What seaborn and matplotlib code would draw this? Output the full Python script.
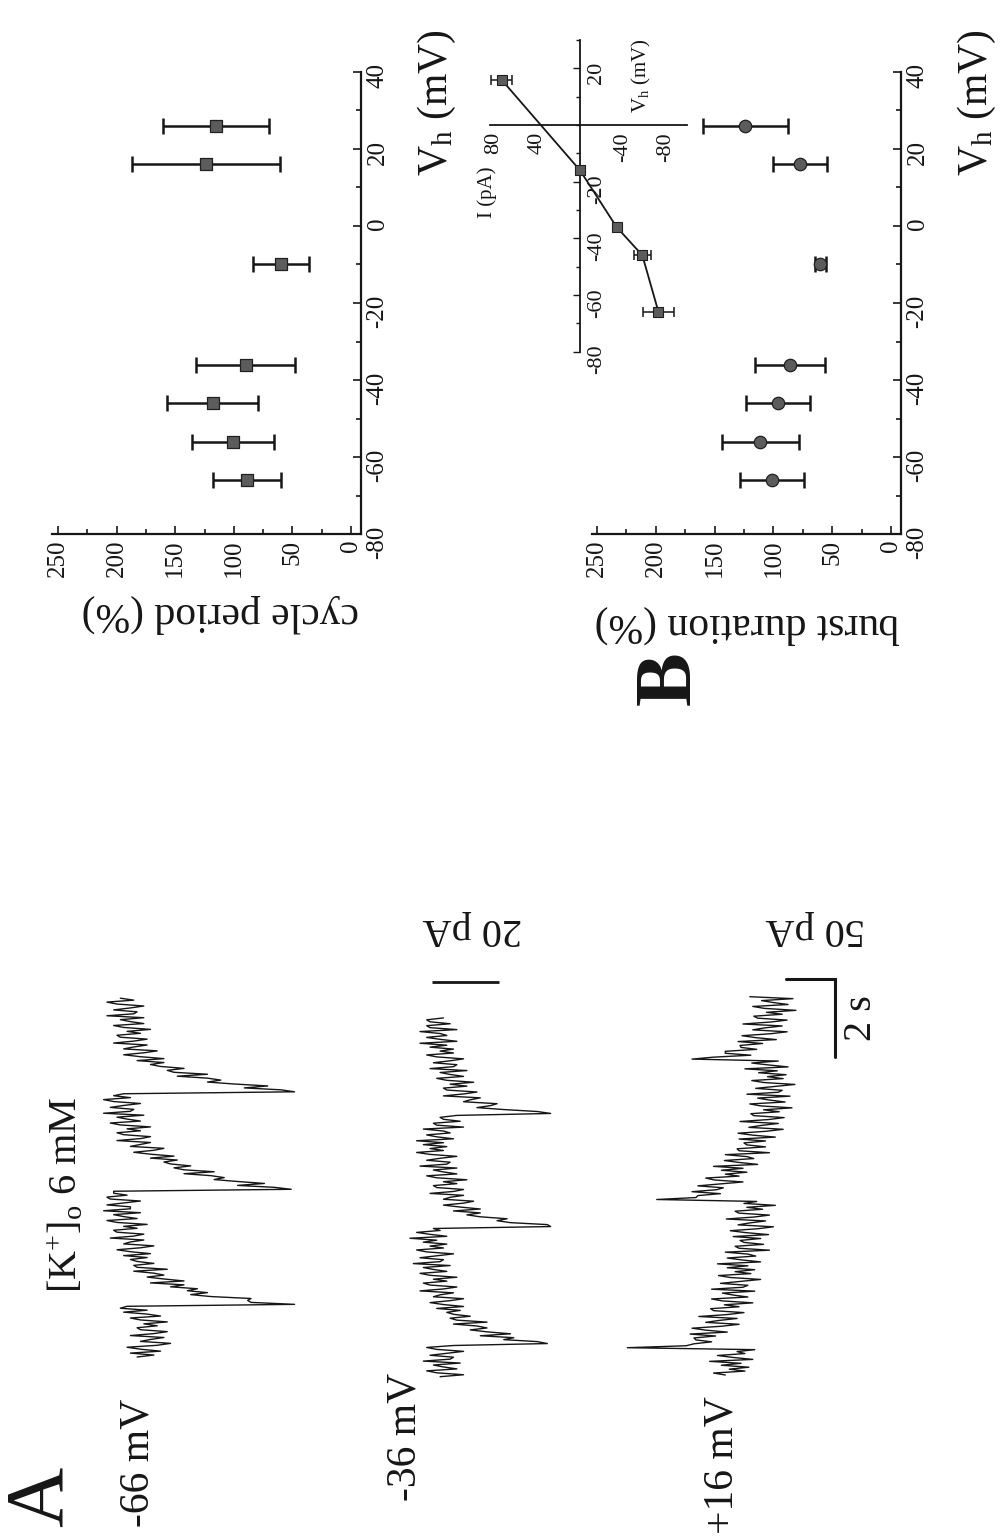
import numpy as np
import pandas as pd
import matplotlib
matplotlib.use("Agg")
import matplotlib.pyplot as plt
import seaborn as sns
from matplotlib.ticker import MultipleLocator, FixedLocator

sns.set_theme(style="white")
plt.rcParams['font.family'] = ['Liberation Serif', 'DejaVu Serif']
plt.rcParams['mathtext.fontset'] = 'custom'
plt.rcParams['mathtext.rm'] = 'Liberation Serif'
plt.rcParams['mathtext.it'] = 'Liberation Serif:italic'
plt.rcParams['mathtext.bf'] = 'Liberation Serif:bold'
plt.rcParams['axes.unicode_minus'] = False

# ---------------- data ----------------
vh = [-66, -56, -46, -36, -10, 16, 26]
cycle_period = [89, 101, 118, 90, 60, 124, 115]
cycle_err = [29, 35, 39, 42, 24, 63, 45]
burst_duration = [101, 111, 96, 86, 60, 77, 124]
burst_err = [27, 33, 27, 30, 5, 23, 36]

iv_vh = [-66, -46, -36, -16, 16]
iv_current = [-73, -58, -34, 0, 73]
iv_err = [14, 8, 3, 2, 10]

period_ticks = [0, 50, 100, 150, 200, 250]
vh_ticks = [-80, -60, -40, -20, 0, 20, 40]
iv_i_ticks = [80, 40, -40, -80]
iv_v_ticks = [20, -20, -40, -60, -80]

trace_dt = 0.05  # s per sample
trace_m66 = [-6, -11, -4, -13, -7, -3, -12, -16, -7, -10, -14, -4, -11, -15, -7, -6,
             -12, -8, -15, -7, -4, -13, -9, -2, -9, -1, -3,
             -53, -40, -39, -40, -28, -22, -27, -21, -24, -16, -20, -10, -20, -14, -9,
             -14, -11, -5, -15, -6, -5, -11, -6, -4, -9, -2, -10, -4, 0, -7, -11, -2,
             -4, -8, 2, -5, -8, 0, 1, -6, -2, -9, 0, 3, -6, -2, 1, -7, 4, -4, -4, 3,
             -2, -7, 2, 3, -3, 1, 1,
             -52, -47, -36, -44, -36, -29, -32, -28, -20, -29, -20, -17, -22, -16, -14,
             -18, -10, -17, -10, -5, -11, -14, -4, -7, -10, 0, -7, -10, -2, 0, -7, -3,
             -10, -1, 2, -7, -3, 0, -8, 4, -4, -5, 2, -2, -7, 1, 4, -4, 1, -2,
             -53, -49, -38, -45, -35, -27, -31, -27, -18, -27, -17, -15, -20, -13, -10,
             -14, -6, -14, -7, -2, -8, -12, -2, -5, -9, 1, -5, -9, -1, 0, -7, -3, -10,
             -2, 1, -8, -4, -1, -8, 3, -5, -6, 1, -4, -8, 0, 3, -5, -1]
trace_m36 = [-6, -13, -5, -2, -11, -7, -4, -12, -1, -9, -10, -3, -8, -13, -5, -2, -10,
             -38, -35, -25, -28, -18, -27, -20, -15, -20, -17, -10, -20, -11, -9, -15,
             -10, -8, -12, -5, -13, -7, -3, -9, -13, -4, -6, -10, 0, -7, -11, -3, -1,
             -8, -4, -11, -3, 0, -8, -4, -1, -9, 2, -6, -7, 0, -5, -10, -2, 1, -7, -3,
             -8, -1, -5, 3, -8, -3, 1, -6, -4,
             -39, -38, -27, -23, -26, -18, -14, -18, -10, -18, -12, -7, -13, -16, -7,
             -9, -13, -3, -10, -13, -5, -4, -11, -7, -14, -5, -2, -11, -7, -4, -11, 0,
             -8, -9, -2, -6, -11, -3, 1, -7, -3, -8, -1, -7, 1, -10, -5, -2, -9, -7,
             -1, -13, -5, -4, -12, -7, -6, -11,
             -39, -35, -25, -17, -21, -23, -13, -15, -18, -7, -13, -17, -8, -7, -14,
             -9, -16, -8, -5, -13, -9, -6, -14, -3, -10, -11, -4, -9, -13, -5, -2, -10,
             -6, -10, -3, -8, 0, -11, -6, -2, -8, -6, 0, -11, -3, -2, -9, -3, -2, -7]
trace_p16 = [32, 44, 12, 28, 8, 36, 16, 48, 4, 24, 40, 12, 20, 2,
             132, 72, 64, 46, 62, 64, 42, 68, 30, 52, 66, 36, 18, 52, 38, 20, 59, 30,
             13, 44, 47, 18, 33, 4, 35, 46, 9, 24, 35, 2, 46, 14, 9, 37, 16, -4, 27,
             39, 6, 22, 2, 30, 9, 40, -4, 15, 30, 1, 9, 32, -13, 18, 22, -7, 13, 17,
             -4, 24, -12, 11, 27, -1, -17, 19, 7, -9, 31, 3, -13, 18, 22, -6, 10, -19,
             13, 0,
             102, 62, 60, 37, 66, 41, 34, 60, 37, 14, 43, 52, 18, 32, 10, 36, 14, 44,
             -1, 18, 33, 3, 10, 32, -13, 18, 20, -9, 10, 13, -9, 18, -19, 4, 19, -10,
             -27, 8, -5, -22, 17, -12, -28, 3, 6, -23, -7, -36, -4, 7, -29, -13, -1,
             -34, 10, -22, -26, 1, -19, -39, -7, 5, -27, -11, -30, -2, -21, 12, -32,
             -12, 5, -22,
             66, 44, 6, 32, 32, 0, 16, 17, -6, 19, -20, 1, 15, -14, -31, 4, -8, -26,
             14, -14, -31, -1, 3, -26, -10, -40, -8, 4, -32, -17, -5, -37, 7]

scale_small_pA = 20
scale_large_pA = 50
scale_time_s = 2

# ---------------- figure helpers ----------------
W, H = 1003, 1537
fig = plt.figure(figsize=(W / 100, H / 100), dpi=100)
fig.patch.set_facecolor('white')


def px_axes(l, t, r, b):
    ax = fig.add_axes([l / W, 1 - b / H, (r - l) / W, (b - t) / H])
    ax.set_facecolor('none')
    return ax


def px_text(x, y, s, **kw):
    kw.setdefault('ha', 'center')
    kw.setdefault('va', 'center')
    fig.text(x / W, 1 - y / H, s, **kw)


def dec_lim(p_a, p_b, p0, s):
    # pixel = p0 - s*value  -> value at pixels a, b
    return ((p0 - p_a) / s, (p0 - p_b) / s)


INK = '#161616'

# ---------------- panel A: traces ----------------
def trace_axes(l, t, r, b, i0_px, i_scale, t0_px, t_scale):
    ax = px_axes(l, t, r, b)
    ax.set_xlim(*dec_lim(l, r, i0_px, i_scale))
    ax.set_ylim(*dec_lim(b, t, t0_px, t_scale))
    ax.axis('off')
    return ax


ta1 = trace_axes(100, 985, 310, 1362, 117, 3.35, 1357, 39)
ta2 = trace_axes(405, 970, 560, 1382, 420, 3.35, 1376.7, 39)
ta3 = trace_axes(600, 965, 850, 1380, 756.7, 0.98, 1375, 39)

for ax, tr in ((ta1, trace_m66), (ta2, trace_m36), (ta3, trace_p16)):
    tt = np.arange(len(tr)) * trace_dt
    sns.lineplot(x=tr, y=tt, sort=False, estimator=None, color=INK,
                 linewidth=1.0, ax=ax)

# scale bars
t_bar2 = (1376.7 - 982) / 39
i_start2 = (420 - 432) / 3.35
ta2.plot([i_start2, i_start2 - scale_small_pA], [t_bar2, t_bar2], color=INK,
         lw=2.0, clip_on=False, solid_capstyle='butt')
t_bar3 = (1375 - 979) / 39
i_start3 = (756.7 - 786) / 0.98
ta3.plot([i_start3, i_start3 - scale_large_pA, i_start3 - scale_large_pA],
         [t_bar3, t_bar3, t_bar3 - scale_time_s], color=INK, lw=2.2,
         clip_on=False, solid_joinstyle='miter')

px_text(472, 929, '20 pA', fontsize=29, rotation=180, color=INK)
px_text(815, 928, '50 pA', fontsize=29, rotation=180, color=INK)
px_text(862, 1018, '2 s', fontsize=29, rotation=90, color=INK)

px_text(138, 1463, '-66 mV', fontsize=30, rotation=90, color=INK)
px_text(405, 1437, '-36 mV', fontsize=30, rotation=90, color=INK)
px_text(722, 1465, '+16 mV', fontsize=30, rotation=90, color=INK)
px_text(67, 1195, r'[K$^{+}$]$_{\mathrm{o}}$ 6 mM', fontsize=29, rotation=90, color=INK)
px_text(42, 1497, 'A', fontsize=60, rotation=90, color=INK)
px_text(670, 678, 'B', fontsize=58, rotation=90, color=INK, fontweight='bold')


# ---------------- panel B ----------------
def style_main(ax):
    for sp in ('top', 'left'):
        ax.spines[sp].set_visible(False)
    for sp in ('bottom', 'right'):
        ax.spines[sp].set_visible(True)
        ax.spines[sp].set_color(INK)
        ax.spines[sp].set_linewidth(1.6)
    ax.yaxis.tick_right()
    ax.xaxis.tick_bottom()
    ax.xaxis.set_major_locator(FixedLocator(period_ticks))
    ax.xaxis.set_minor_locator(MultipleLocator(25))
    ax.yaxis.set_major_locator(FixedLocator(vh_ticks))
    ax.yaxis.set_minor_locator(MultipleLocator(10))
    ax.tick_params(which='both', direction='in', color=INK, width=1.2,
                   labelsize=18, labelcolor=INK)
    ax.tick_params(which='major', length=6)
    ax.tick_params(which='minor', length=3.5)
    ax.tick_params(axis='x', labelrotation=90, pad=4)
    ax.tick_params(axis='y', labelrotation=90, pad=4, left=False, right=True,
                   labelleft=False, labelright=True)
    ax.grid(False)


ax1 = px_axes(52, 71.7, 361, 534.3)
ax1.set_xlim(*dec_lim(52, 361, 351, 1.172))
ax1.set_ylim(-80, 40)
ax1.errorbar(cycle_period, vh, xerr=cycle_err, fmt='none', ecolor=INK,
             elinewidth=1.8, capsize=6, capthick=1.8, zorder=2)
sns.scatterplot(x=cycle_period, y=vh, marker='s', s=70, color='#5c5c5c',
                edgecolor='#202020', linewidth=0.9, ax=ax1, zorder=3)
style_main(ax1)

ax2 = px_axes(592, 71.7, 901, 534.3)
ax2.set_xlim(*dec_lim(592, 901, 891, 1.176))
ax2.set_ylim(-80, 40)
ax2.errorbar(burst_duration, vh, xerr=burst_err, fmt='none', ecolor=INK,
             elinewidth=1.8, capsize=6, capthick=1.8, zorder=2)
sns.scatterplot(x=burst_duration, y=vh, marker='o', s=80, color='#5c5c5c',
                edgecolor='#202020', linewidth=0.9, ax=ax2, zorder=3)
style_main(ax2)

px_text(220, 614, 'cycle period (%)', fontsize=30, rotation=180, color=INK)
px_text(747, 625, 'burst duration (%)', fontsize=30, rotation=180, color=INK)
px_text(437, 103, r'V$_{\mathrm{h}}$ (mV)', fontsize=30, rotation=90, color=INK)
px_text(977, 103, r'V$_{\mathrm{h}}$ (mV)', fontsize=30, rotation=90, color=INK)

# ---------------- inset I-V ----------------
iv_xlim = (84, -100)
iv_ylim = (-80.6, 30)
i0_px, i_s = 580, 1.075
v0_px, v_s = 125, 2.833
axi = px_axes(i0_px - i_s * iv_xlim[0], v0_px - v_s * iv_ylim[1],
              i0_px - i_s * iv_xlim[1], v0_px - v_s * iv_ylim[0])
axi.set_xlim(*iv_xlim)
axi.set_ylim(*iv_ylim)
axi.errorbar(iv_current, iv_vh, xerr=iv_err, fmt='none', ecolor=INK,
             elinewidth=1.1, capsize=3.5, capthick=1.1, zorder=2)
sns.lineplot(x=iv_current, y=iv_vh, sort=False, estimator=None, color=INK,
             linewidth=1.3, ax=axi, zorder=2)
sns.scatterplot(x=iv_current, y=iv_vh, marker='s', s=55, color='#5c5c5c',
                edgecolor='#202020', linewidth=0.8, ax=axi, zorder=3)
for sp in ('top', 'left'):
    axi.spines[sp].set_visible(False)
axi.spines['bottom'].set_position(('data', 0))
axi.spines['right'].set_position(('data', 0))
for sp in ('bottom', 'right'):
    axi.spines[sp].set_visible(True)
    axi.spines[sp].set_color(INK)
    axi.spines[sp].set_linewidth(1.3)
axi.spines['right'].set_bounds(-80, 30)
axi.yaxis.tick_right()
axi.xaxis.set_major_locator(FixedLocator(iv_i_ticks))
axi.xaxis.set_minor_locator(MultipleLocator(20))
axi.yaxis.set_major_locator(FixedLocator(iv_v_ticks))
axi.yaxis.set_minor_locator(MultipleLocator(10))
axi.tick_params(which='both', direction='in', color=INK, width=1.0,
                labelsize=16, labelcolor=INK)
axi.tick_params(which='major', length=5)
axi.tick_params(which='minor', length=3)
axi.tick_params(axis='x', labelrotation=90, pad=5)
axi.tick_params(axis='y', labelrotation=90, pad=5, left=False, right=True,
                labelleft=False, labelright=True)
axi.set_xlabel('')
axi.set_ylabel('')
axi.grid(False)
px_text(487, 192, 'I (pA)', fontsize=15, rotation=90, color=INK)
px_text(641, 76, r'V$_{\mathrm{h}}$ (mV)', fontsize=15, rotation=90, color=INK)

fig.savefig('out.png', dpi=100, facecolor='white')
